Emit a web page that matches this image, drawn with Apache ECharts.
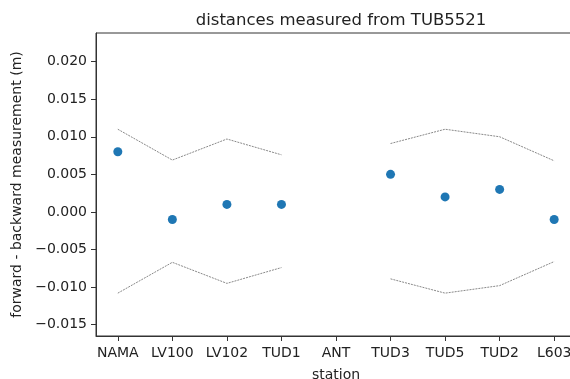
<!DOCTYPE html>
<html><head><meta charset="utf-8">
<script src="https://cdn.jsdelivr.net/npm/echarts@6/dist/echarts.min.js"></script>
<style>html,body{margin:0;padding:0;background:#fff}#c{width:570px;height:379px}</style>
</head><body><div id="c"></div>
<script>
const stations = ['NAMA','LV100','LV102','TUD1','ANT','TUD3','TUD5','TUD2','L603'];
const diffs = [0.008, -0.001, 0.001, 0.001, null, 0.005, 0.002, 0.003, -0.001];
const upperLimit = [0.0110, 0.0069, 0.0097, 0.0076, null, 0.0091, 0.0110, 0.0100, 0.0068];
const lowerLimit = [-0.0108, -0.0067, -0.0095, -0.0074, null, -0.0089, -0.0108, -0.0098, -0.0066];
const yTicks = [-0.015, -0.010, -0.005, 0.000, 0.005, 0.010, 0.015, 0.020];

const idx = stations.map((s,i)=>i);
const toPts = arr => arr.map((v,i)=>[i, v]);
const font = 'DejaVu Sans';
const chart = echarts.init(document.getElementById('c'));
chart.setOption({
  animation:false,
  title:{text:'distances measured from TUB5521', left:336, top:7, textAlign:'center',
    textStyle:{fontFamily:font,fontSize:16.5,fontWeight:'normal',color:'#222'}},
  grid:{left:96, top:33, width:480, height:303, show:true, borderColor:'#333', borderWidth:1,
    containLabel:false, outerBoundsMode:'none'},
  xAxis:{type:'value', min:-0.4, max:8.4,
    name:'station', nameLocation:'middle', nameGap:32,
    nameTextStyle:{fontFamily:font,fontSize:14,color:'#222'},
    axisLine:{show:true,onZero:false,lineStyle:{color:'#333',width:1}},
    axisTick:{show:true,length:5,lineStyle:{color:'#333'},customValues:idx},
    axisLabel:{customValues:idx, margin:10, fontFamily:font,fontSize:14,color:'#222',
      formatter:v=>stations[Math.round(v)]},
    splitLine:{show:false}},
  yAxis:{type:'value', min:-0.0165, max:0.0238,
    name:'forward - backward measurement (m)', nameLocation:'middle', nameGap:69,
    nameTextStyle:{fontFamily:font,fontSize:14,color:'#222'},
    axisLine:{show:true,onZero:false,lineStyle:{color:'#333',width:1}},
    axisTick:{show:true,length:5,lineStyle:{color:'#333'},customValues:yTicks},
    axisLabel:{customValues:yTicks, margin:9, fontFamily:font,fontSize:14,color:'#222',
      formatter:v=>(v<0?'\u2212':'')+Math.abs(v).toFixed(3)},
    splitLine:{show:false}},
  series:[
    {type:'line', data:toPts(upperLimit), symbol:'none', connectNulls:false,
      lineStyle:{color:'#888',width:1,type:[2,1]}, silent:true},
    {type:'line', data:toPts(lowerLimit), symbol:'none', connectNulls:false,
      lineStyle:{color:'#888',width:1,type:[2,1]}, silent:true},
    {type:'scatter', data:toPts(diffs).filter(p=>p[1]!==null), symbolSize:9,
      itemStyle:{color:'#1f77b4',opacity:1}}
  ]
});
</script></body></html>
